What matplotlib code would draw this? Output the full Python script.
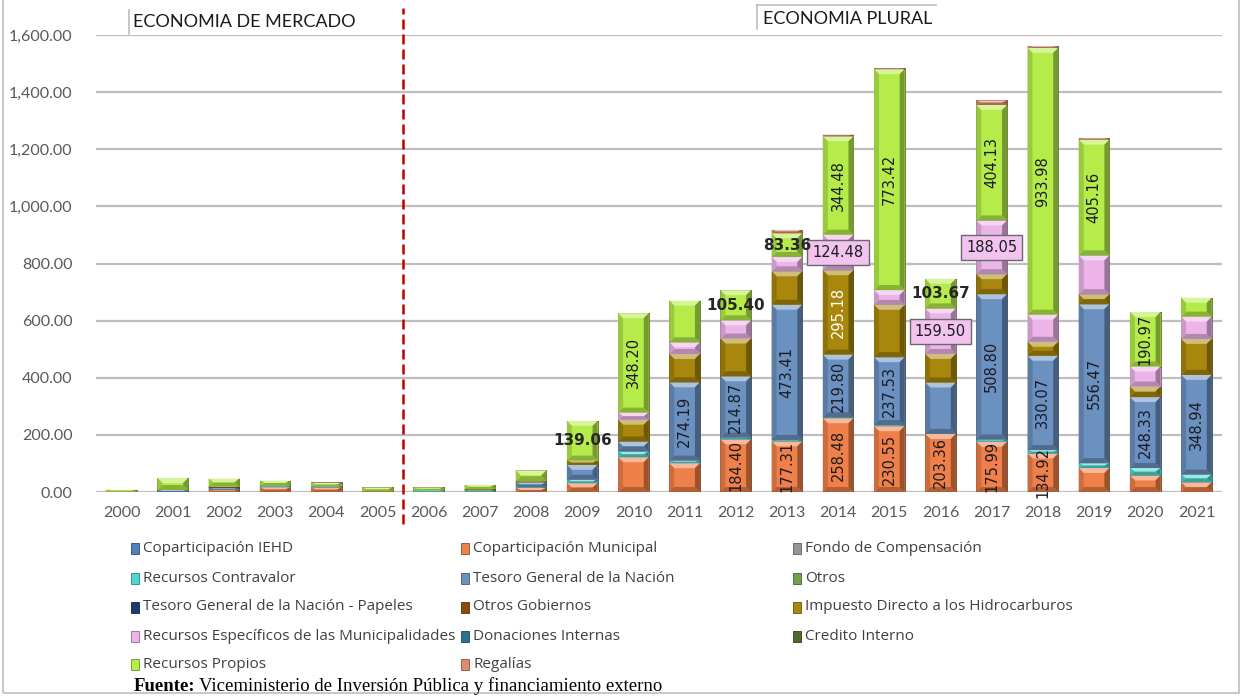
import numpy as np
import matplotlib.pyplot as plt
from matplotlib.patches import Rectangle, Polygon
from matplotlib.colors import to_rgb
from matplotlib.lines import Line2D

# años
years = ["2000", "2001", "2002", "2003", "2004", "2005", "2006", "2007", "2008", "2009", "2010",
         "2011", "2012", "2013", "2014", "2015", "2016", "2017", "2018", "2019", "2020", "2021"]

# series (millones), en orden de apilado
copart_iehd = [0] * 22
copart_mun = [0, 0, 8, 17, 16, 2, 0, 0, 14, 31, 122, 101, 184.40, 177.31, 258.48, 230.55,
              203.36, 175.99, 134.92, 84, 58, 34]
fondo_comp = [0] * 22
rec_contravalor = [0, 0, 0, 6, 4, 0, 6, 6, 4, 12, 20, 9, 6, 5, 3, 4, 0, 8, 12, 17, 26, 27]
tgn = [0, 7, 6, 0, 0, 0, 0, 0, 16, 52, 35, 274.19, 214.87, 473.41, 219.80, 237.53,
       180, 508.80, 330.07, 556.47, 248.33, 348.94]
otros = [0] * 22
tgn_papeles = [0] * 22
otros_gob = [0, 0, 5, 0, 0, 0, 0, 0, 0, 0, 0, 0, 0, 0, 0, 0, 0, 0, 0, 0, 0, 0]
idh = [0, 0, 0, 0, 0, 0, 0, 5, 4, 15, 76, 99, 132, 117, 295.18, 183, 100, 70, 49, 35, 37, 126]
rec_esp = [0, 0, 0, 0, 0, 0, 0, 0, 0, 0, 25, 41, 64, 50, 124.48, 52, 159.50, 188.05, 95, 136, 70, 78]
donaciones = [0] * 22
credito = [0] * 22
rec_propios = [8, 42, 28, 17, 12, 14, 10, 14, 38, 139.06, 348.20, 146, 105.40, 83.36, 344.48,
               773.42, 103.67, 404.13, 933.98, 405.16, 190.97, 66]
regalias = [0, 0, 0, 0, 2, 0, 0, 0, 0, 0, 0, 0, 0, 12, 6, 3, 0, 16, 6, 6, 0, 0]

series = [
    ("Coparticipación IEHD", copart_iehd, "#4F81BD"),
    ("Coparticipación Municipal", copart_mun, "#EF8049"),
    ("Fondo de Compensación", fondo_comp, "#969696"),
    ("Recursos Contravalor", rec_contravalor, "#4FD6CE"),
    ("Tesoro General de la Nación", tgn, "#6B91C0"),
    ("Otros", otros, "#71A04F"),
    ("Tesoro General de la Nación - Papeles", tgn_papeles, "#1F3A68"),
    ("Otros Gobiernos", otros_gob, "#8A4B12"),
    ("Impuesto Directo a los Hidrocarburos", idh, "#A8870C"),
    ("Recursos Específicos de las Municipalidades", rec_esp, "#EDB4EA"),
    ("Donaciones Internas", donaciones, "#2F7193"),
    ("Credito Interno", credito, "#4A6B2A"),
    ("Recursos Propios", rec_propios, "#B5EC4A"),
    ("Regalías", regalias, "#DD8D6C"),
]

# etiquetas de datos: (serie, años, estilo)
labels = [
    ("Coparticipación Municipal", ["2012", "2013", "2014", "2015", "2016", "2017", "2018"], "v"),
    ("Tesoro General de la Nación", ["2011", "2012", "2013", "2014", "2015", "2017", "2018",
                                     "2019", "2020", "2021"], "v"),
    ("Impuesto Directo a los Hidrocarburos", ["2014"], "vw"),
    ("Recursos Específicos de las Municipalidades", ["2014", "2016", "2017"], "box"),
    ("Recursos Propios", ["2010", "2014", "2015", "2017", "2018", "2019", "2020"], "v"),
    ("Recursos Propios", ["2009", "2012", "2013", "2016"], "h"),
]


def mix(c, t, a):
    c = np.array(to_rgb(c))
    t = np.array(to_rgb(t))
    return tuple(c * (1 - a) + t * a)


W, H = 1242, 696
fig = plt.figure(figsize=(W / 100, H / 100), dpi=100)
ax = fig.add_axes([96 / W, (H - 492) / H, (1222 - 96) / W, (492 - 35) / H])

x = np.arange(len(years))
ax.set_xlim(-0.5, len(years) - 0.5)
ax.set_ylim(0, 1600)

# bevel size in data units (about 5 px)
px_x = (1222 - 96) / len(years)
px_y = (492 - 35) / 1600
bev_x = 5 / px_x
bev_y = 5 / px_y

bottom = np.zeros(len(years))
bottoms = {}
for name, vals, col in series:
    vals = np.array(vals, dtype=float)
    bottoms[name] = bottom.copy()
    bars = ax.bar(x, vals, 0.6, bottom=bottom, color=col, edgecolor=mix(col, "black", 0.5),
                  linewidth=0.6, zorder=2)
    for p in bars.patches:
        h = p.get_height()
        if h <= 0:
            continue
        x0, y0, w = p.get_x(), p.get_y(), p.get_width()
        x1, y1 = x0 + w, y0 + h
        dx = min(bev_x, w / 2)
        dy = min(bev_y, h / 2)
        top = [(x0, y1), (x1, y1), (x1 - dx, y1 - dy), (x0 + dx, y1 - dy)]
        bot = [(x0, y0), (x1, y0), (x1 - dx, y0 + dy), (x0 + dx, y0 + dy)]
        lft = [(x0, y0), (x0 + dx, y0 + dy), (x0 + dx, y1 - dy), (x0, y1)]
        rgt = [(x1, y0), (x1 - dx, y0 + dy), (x1 - dx, y1 - dy), (x1, y1)]
        for poly, c in [(top, mix(col, "white", 0.45)), (bot, mix(col, "black", 0.25)),
                        (lft, mix(col, "black", 0.15)), (rgt, mix(col, "black", 0.35))]:
            ax.add_patch(Polygon(poly, closed=True, facecolor=c, edgecolor="none", zorder=2.5))
    bottom = bottom + vals

# data labels
vals_by_name = {name: vals for name, vals, col in series}
for name, yrs, style in labels:
    for yr in yrs:
        i = years.index(yr)
        v = vals_by_name[name][i]
        yc = bottoms[name][i] + v / 2
        txt = "{:.2f}".format(v)
        if style == "v":
            ax.text(i, yc, txt, rotation=90, ha="center", va="center", fontsize=10.5,
                    color="#1b1b24", zorder=5)
        elif style == "vw":
            ax.text(i, yc, txt, rotation=90, ha="center", va="center", fontsize=10.5,
                    color="white", zorder=5)
        elif style == "h":
            ax.text(i, yc, txt, ha="center", va="center", fontsize=11, fontweight="bold",
                    color="#262626", zorder=5)
        else:
            ax.text(i, yc, txt, ha="center", va="center", fontsize=10.5, color="#1b1b24", zorder=5,
                    bbox=dict(boxstyle="square,pad=0.35", facecolor="#F2C3EF", edgecolor="#6a6a6a",
                              linewidth=1.0))

# axes styling
ax.set_yticks(np.arange(0, 1601, 200))
ax.set_yticklabels(["{:,.2f}".format(t) for t in np.arange(0, 1601, 200)])
ax.set_xticks(x)
ax.set_xticklabels(years)
ax.tick_params(axis="both", length=0, colors="#595959", labelsize=11.5)
ax.tick_params(axis="y", pad=17, labelsize=11.5)
ax.tick_params(axis="x", pad=10)
for lab in ax.get_xticklabels() + ax.get_yticklabels():
    lab.set_fontfamily("Lato")
ax.grid(axis="y", color="#BEBEBE", linewidth=1.6, zorder=0)
ax.set_axisbelow(True)
for s in ax.spines.values():
    s.set_visible(False)

# division mercado / plural
ax.axvline(5.5, ymin=-0.07, ymax=1.06, color="#C00000", linestyle=(0, (4, 2)), linewidth=1.8,
           clip_on=False, zorder=4)

# encabezados
fig.text(133 / W, 1 - 22 / H, "ECONOMIA DE MERCADO", fontsize=13, family="Lato",
         color="#1a1a1a", ha="left", va="center")
fig.add_artist(Line2D([129 / W, 129 / W], [1 - 10 / H, 1 - 34 / H], color="#BDBDBD", linewidth=1.2))
fig.text(763 / W, 1 - 19 / H, "ECONOMIA PLURAL", fontsize=13, family="Lato",
         color="#1a1a1a", ha="left", va="center")
fig.add_artist(Line2D([757 / W, 757 / W], [1 - 5 / H, 1 - 29 / H], color="#BDBDBD", linewidth=1.2))
fig.add_artist(Line2D([757 / W, 936 / W], [1 - 5 / H, 1 - 5 / H], color="#BDBDBD", linewidth=1.2))

# leyenda (3 columnas de igual ancho)
col_x = [135, 465, 797]
row_y = [548, 578, 607, 636, 664]
for k, (name, vals, col) in enumerate(series):
    r, c = divmod(k, 3)
    mx, my = col_x[c], row_y[r]
    fig.add_artist(Rectangle(((mx - 4) / W, 1 - (my + 6) / H), 8 / W, 11 / H,
                             facecolor=col, edgecolor=mix(col, "black", 0.4), linewidth=0.6))
    fig.text((mx + 8) / W, 1 - my / H, name, fontsize=11, family="Open Sans",
             color="#404040", ha="left", va="center")

# marco del gráfico
fig.add_artist(Rectangle((3 / W, 3 / H), (1239 - 3) / W, 1.2, facecolor="none",
                         edgecolor="#BDBDBD", linewidth=1.2))

fig.text(134 / W, 5 / H, "Fuente:", fontsize=13.5, family="Liberation Serif",
         fontweight="bold", ha="left", va="baseline", color="black")
fig.text(199 / W, 5 / H, "Viceministerio de Inversión Pública y financiamiento externo",
         fontsize=13.5, family="Liberation Serif", ha="left", va="baseline", color="black")

fig.savefig("out.png", dpi=100)
